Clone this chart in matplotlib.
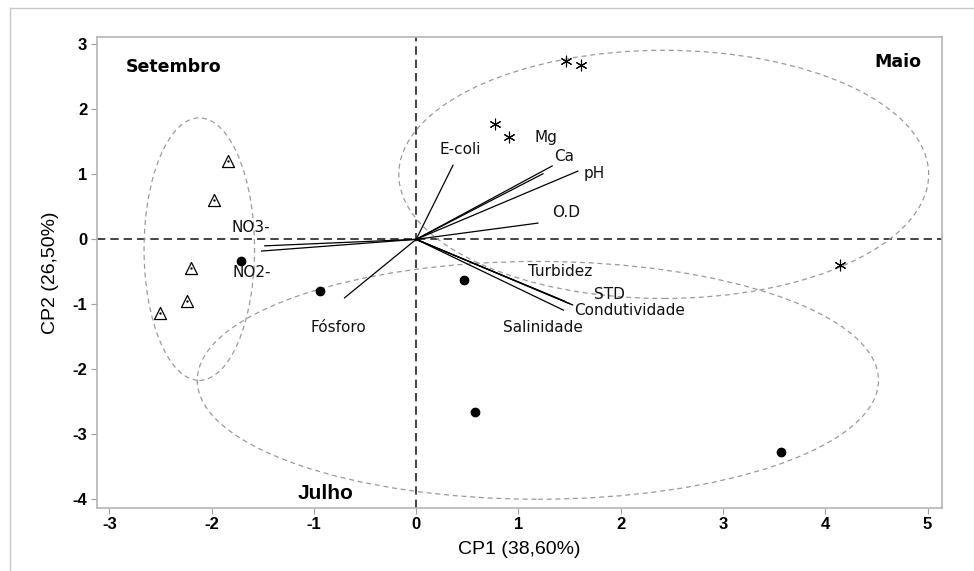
import matplotlib
matplotlib.use('Agg')
import matplotlib.pyplot as plt
from matplotlib.patches import Ellipse
from matplotlib.lines import Line2D

plt.rcParams['axes.unicode_minus'] = False

# scores per month
setembro_x = [-1.84, -1.98, -2.20, -2.24, -2.50]
setembro_y = [1.20, 0.60, -0.44, -0.95, -1.13]
julho_x = [-1.71, -0.94, 0.47, 0.58, 3.57]
julho_y = [-0.33, -0.80, -0.63, -2.66, -3.28]
maio_x = [1.46, 1.61, 0.77, 0.91, 4.14]
maio_y = [2.74, 2.68, 1.78, 1.57, -0.40]

# loadings
variables = ["E-coli", "Mg", "Ca", "pH", "O.D", "Turbidez", "STD",
             "Condutividade", "Salinidade", "NO3-", "NO2-", "Fósforo"]
load_x = [0.36, 1.24, 1.33, 1.58, 1.19, 1.45, 1.50, 1.53, 1.44, -1.48, -1.51, -0.70]
load_y = [1.14, 1.01, 1.13, 1.05, 0.25, -0.95, -0.99, -1.01, -1.09, -0.10, -0.18, -0.90]

# label anchor (x, y) for each variable text
label_pos = {
    "E-coli": (0.23, 1.38), "Mg": (1.16, 1.57), "Ca": (1.35, 1.27),
    "pH": (1.64, 1.01), "O.D": (1.33, 0.41), "Turbidez": (1.09, -0.50),
    "STD": (1.74, -0.85), "Condutividade": (1.54, -1.09),
    "Salinidade": (0.85, -1.35), "NO3-": (-1.81, 0.18), "NO2-": (-1.80, -0.51),
    "Fósforo": (-1.03, -1.35),
}

# group ellipses: center x, center y, width, height
ellipse_cx = [-2.12, 2.42, 1.19]
ellipse_cy = [-0.15, 1.00, -2.17]
ellipse_w = [1.08, 5.18, 6.66]
ellipse_h = [4.04, 3.82, 3.66]

narrow = ['Liberation Sans', 'DejaVu Sans']

fig = plt.figure(figsize=(9.74, 5.71), dpi=100)
ax = fig.add_axes([0.0996, 0.1109, 0.8675, 0.8238])

# light frame around the whole picture (top and left visible)
fig.add_artist(Line2D([0.0103, 0.0103], [0.0, 0.986], color='#c8c8c8', lw=1.0))
fig.add_artist(Line2D([0.0103, 1.0], [0.986, 0.986], color='#c8c8c8', lw=1.0))

ax.set_xlim(-3.12, 5.14)
ax.set_ylim(-4.13, 3.11)

ax.axhline(0, color='#222222', ls=(0, (5, 3)), lw=1.2, zorder=1)
ax.axvline(0, color='#222222', ls=(0, (5, 3)), lw=1.2, zorder=1)

for cx, cy, w, h in zip(ellipse_cx, ellipse_cy, ellipse_w, ellipse_h):
    ax.add_patch(Ellipse((cx, cy), w, h, fill=False, edgecolor='#9a9a9a',
                         ls=(0, (4, 3)), lw=0.9, zorder=2))

for v, lx, ly in zip(variables, load_x, load_y):
    ax.plot([0, lx], [0, ly], color='black', lw=0.9, zorder=3)
    tx, ty = label_pos[v]
    ax.text(tx, ty, v, fontsize=11, va='center', ha='left',
            family='DejaVu Sans', color='#111111', zorder=4)

ax.scatter(setembro_x, setembro_y, marker='^', s=75, facecolors='white',
           edgecolors='black', linewidths=0.9, zorder=5)
ax.scatter(setembro_x, setembro_y, marker='.', s=2, color='black', zorder=6)
ax.scatter(julho_x, julho_y, marker='o', s=36, color='black', zorder=5)
ax.scatter(maio_x, maio_y, marker=(6, 2, 0), s=60, color='black',
           linewidths=0.8, zorder=5)

ax.text(-2.84, 2.66, "Setembro", fontsize=12.5, fontweight='bold', va='center', ha='left')
ax.text(4.94, 2.73, "Maio", fontsize=12.5, fontweight='bold', va='center', ha='right')
ax.text(-1.16, -3.91, "Julho", fontsize=15, fontweight='bold', va='center', ha='left',
        family=narrow)

ax.set_xticks(range(-3, 6))
ax.set_yticks(range(-4, 4))
for lab in ax.get_xticklabels() + ax.get_yticklabels():
    lab.set_family(narrow)
    lab.set_fontsize(12)
    lab.set_fontweight('bold')
ax.tick_params(direction='out', length=4, width=0.8, color='#a0a0a0', pad=3)

for sp in ax.spines.values():
    sp.set_color('#b5b5b5')
    sp.set_linewidth(1.2)

ax.set_xlabel("CP1 (38,60%)", fontsize=14, family=narrow, labelpad=6)
ax.set_ylabel("CP2 (26,50%)", fontsize=14, family=narrow, labelpad=10)

fig.savefig("out.png", dpi=100, facecolor='white')
